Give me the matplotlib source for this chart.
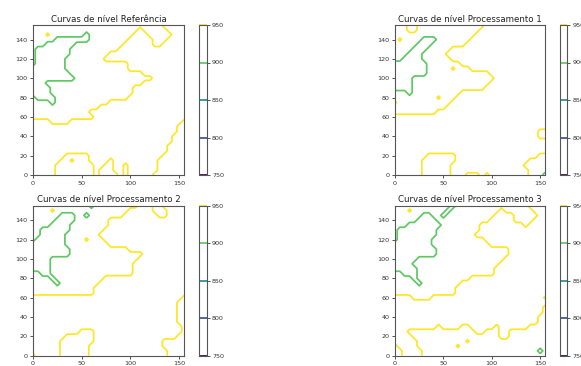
import numpy as np
import matplotlib
matplotlib.use("Agg")
import matplotlib.pyplot as plt

# ---------------- data ----------------
# Elevation classes on a 5-unit grid (u = 0..155, v = 155..0, rows top->bottom)
# L = below 900, M = 900-950, H = above 950, p = small peak in M, m = small dip in H
CODE = {"L": 870.0, "M": 925.0, "H": 980.0, "p": 962.0, "m": 938.0}
levels = [750, 800, 850, 900, 950]
grid_u = list(range(0, 156, 5))
grid_v = list(range(0, 156, 5))
titles = ["Curvas de nível Referência", "Curvas de nível Processamento 1",
          "Curvas de nível Processamento 2", "Curvas de nível Processamento 3"]
xticks = [0, 50, 100, 150]
yticks = [0, 20, 40, 60, 80, 100, 120, 140]

ref_rows = [
    "MMMMMMMMMMMMMMMMMMMMMMMMMMMHHHHH",  # 155
    "MMMMMMMMMMMMMMMMMMMMMMHMMMMMHHHH",  # 150
    "MMMpMMMMMMMLMMMMMMMMMHHHMMMMMHHH",  # 145
    "MMMMMLLLLLLLMMMMMMMMHHHHHMMMHHHH",  # 140
    "MMMLLLLLLMMMMMMMMMMHHHHHHMMHHHHH",  # 135
    "MLLLLLLLMMMMMMMMMMHHHHHHHHHHHHHH",  # 130
    "MLLLLLLLMMMMMMMMHHHHHHHHHHHHHHHH",  # 125
    "MLLLLLLMMMMMMMMHHHHHHHHHHHHHHHHH",  # 120
    "MLLLLLLMMMMMMMMMMMMMHHHHHHHHHHHH",  # 115
    "LLLLLLLMMMMMMMMMMMMMHHHHHHHHHHHH",  # 110
    "LLLLLLLLMMMMMMMMMMMMMMMHHHHHHHHH",  # 105
    "LLLLLLLLLMMMMMMMMMMMMMMMMHHHHHHH",  # 100
    "LLLMMMMMMMMMMMMMMMMMMMMHHHHHHHHH",  # 95
    "LLLLMMMMMMMMMMMMMMMMMHHHHHHHHHHH",  # 90
    "LLLLMMMMMMMMMMMMMMMMMHHHHHHHHHHH",  # 85
    "MLLLLMMMMMMMMMMMMMMMHHHHHHHHHHHH",  # 80
    "MMMMLMMMMMMMMMMMHHHHHHHHHHHHHHHH",  # 75
    "MMMMMMMMMMMMMMHHHHHHHHHHHHHHHHHH",  # 70
    "MMMMMMMMMMMMHHHHHHHHHHHHHHHHHHHH",  # 65
    "MMMMMMMMMMMMMHHHHHHHHHHHHHHHHHHH",  # 60
    "HHHHMMMMHHHHHHHHHHHHHHHHHHHHHHHM",  # 55
    "HHHHHHHHHHHHHHHHHHHHHHHHHHHHHHMM",  # 50
    "HHHHHHHHHHHHHHHHHHHHHHHHHHHHHHMM",  # 45
    "HHHHHHHHHHHHHHHHHHHHHHHHHHHHHMMM",  # 40
    "HHHHHHHHHHHHHHHHHHHHHHHHHHHHHMMM",  # 35
    "HHHHHHHHHHHHHHHHHHHHHHHHHHHHMMMM",  # 30
    "HHHHHHHHHHHHHHHHHHHHHHHHHHHHMMMM",  # 25
    "HHHHHHHMMMMMHHHHHHHHHHHHHHHMMMMM",  # 20
    "HHHHHHMMpMMMHHHHMHHHHHHHHHMMMMMM",  # 15
    "HHHHHMMMMMMMMHHMMHHMHHHHHHMMMMMM",  # 10
    "HHHHHMMMMMMMMHMMMHHMHHHHHHMMMMMM",  # 5
    "HHHHHMMMMMMMMHMMMMHMHHHHHMMMMMMM",  # 0
]

proc1_rows = [
    "MMMHHMMMMMMMMMMMMMMHHHHHHHHHHHHH",  # 155
    "MMMHHMMMMMMMMMMMMMHHHHHHHHHHHHHH",  # 150
    "MMMMMMMMMMMMMMMMMHHHHHHHHHHHHHHH",  # 145
    "MpMMMMLLLMMMMMMMHHHHHHHHHHHHHHHH",  # 140
    "MMMMMLLLMMMMMMMHHHHHHHHHHHHHHHHH",  # 135
    "MMMMLLLMMMMMHHHHHHHHHHHHHHHHHHHH",  # 130
    "MMMLLLMMMMMHHHHHHHHHHHHHHHHHHHHH",  # 125
    "MMLLLLMMMMMMHHHHHHHHHHHHHHHHHHHH",  # 120
    "LLLLLLLMMMMMMMHHHHHHHHHHHHHHHHHH",  # 115
    "LLLLLLLMMMMMpMMMHHHHHHHHHHHHHHHH",  # 110
    "LLLLLLLMMMMMMMMMMMMMHHHHHHHHHHHH",  # 105
    "LLLLMMMMMMMMMMMMMMMMMHHHHHHHHHHH",  # 100
    "LLLLMMMMMMMMMMMMMMMMHHHHHHHHHHHH",  # 95
    "LLLLMMMMMMMMMMMMMMMHHHHHHHHHHHHH",  # 90
    "MMMLMMMMMMMMMMHHHHHHHHHHHHHHHHHH",  # 85
    "MMMMMMMMMpMMMHHHHHHHHHHHHHHHHHHH",  # 80
    "pMMMMMMMMMMMHHHHHHHHHHHHHHHHHHHH",  # 75
    "MMMMMMMMMMMHHHHHHHHHHHHHHHHHHHHH",  # 70
    "MMMMMMMMMHHHHHHHHHHHHHHHHHHHHHHH",  # 65
    "HHHHHHHHHHHHHHHHHHHHHHHHHHHHHHHH",  # 60
    "HHHHHHHHHHHHHHHHHHHHHHHHHHHHHHHH",  # 55
    "HHHHHHHHHHHHHHHHHHHHHHHHHHHHHHHH",  # 50
    "HHHHHHHHHHHHHHHHHHHHHHHHHHHHHHMM",  # 45
    "HHHHHHHHHHHHHHHHHHHHHHHHHHHHHHMM",  # 40
    "HHHHHHHHHHHHHHHHHHHHHHHHHHHHHHHH",  # 35
    "HHHHHHHHHHHHHHHHHHHHHHHHHHHHHHHH",  # 30
    "HHHHHHHHHHHHHHHHHHHHHHHHHHHHHHHH",  # 25
    "HHHHHHHMMMMMMHHHHHHHHHHHHHHHHHMM",  # 20
    "HHHHHHMMMMMMMHHHHHHHHHHHHHHHMMMM",  # 15
    "HHHHHHMMMMMMHHHHHHHHHHHHHHHMMMMM",  # 10
    "HHHHHHMMMMMMHHHHHHHHHHHHHHHHMMMM",  # 5
    "HHHHHHMMMMMMHHHMMMHMHHHHHHHHMMML",  # 0
]

proc2_rows = [
    "MMMMMMMMMMMMLMMMMMMMMMHHHMMHHHHH",  # 155
    "MMMMpMMMMMMMMMMMMMMMHHHHHMMMHHHH",  # 150
    "MMMMMMLLLMMLMMMMMMMHHHHHHHMMHHHH",  # 145
    "MMMMMLLLLMMMMMMMHHHHHHHHHHHHHHHH",  # 140
    "MMMMLLLLMMMMMMMMHHHHHHHHHHHHHHHH",  # 135
    "MMLLLLLLMMMMMMMHHHHHHHHHHHHHHHHH",  # 130
    "MMLLLLLMMMMMMMHHHHHHHHHHHHHHHHHH",  # 125
    "MLLLLLLMMMMpMMMHHHHHHHHHHHHHHHHH",  # 120
    "LLLLLLLMMMMMMMMMHHHHHHHHHHHHHHHH",  # 115
    "LLLLLLLLMMMMMMMMMMMMHHHHHHHHHHHH",  # 110
    "LLLLLLLLMMMMMMMMMMMMMMMHHHHHHHHH",  # 105
    "LLLLMMMMMMMMMMMMMMMMMMHHHHHHHHHH",  # 100
    "LLLLMMMMMMMMMMMMMMMMMHHHHHHHHHHH",  # 95
    "LLLLMMMMMMMMMMMMMMMMMHHHHHHHHHHH",  # 90
    "MMLLMMMMMMMMMMMMMMMMMHHHHHHHHHHH",  # 85
    "MMMMLMMMMMMMMMMHHHHHHHHHHHHHHHHH",  # 80
    "MMMMMLMMMMMMMMHHHHHHHHHHHHHHHHHH",  # 75
    "MMMMMMMMMMMMMHHHHHHHHHHHHHHHHHHH",  # 70
    "MMMMMMMMMMMMMHHHHHHHHHHHHHHHHHHH",  # 65
    "HHHHHHHHHHHHHHHHHHHHHHHHHHHHHHHM",  # 60
    "HHHHHHHHHHHHHHHHHHHHHHHHHHHHHHMM",  # 55
    "HHHHHHHHHHHHHHHHHHHHHHHHHHHHHHMM",  # 50
    "HHHHHHHHHHHHHHHHHHHHHHHHHHHHHHMM",  # 45
    "HHHHHHHHHHHHHHHHHHHHHHHHHHHHHHMM",  # 40
    "HHHHHHHHHHHHHHHHHHHHHHHHHHHHHHMM",  # 35
    "HHHHHHHHHHHHHHHHHHHHHHHHHHHHHHHM",  # 30
    "HHHHHHHHHHMMMHHHHHHHHHHHHHHHHHHM",  # 25
    "HHHHHHHMMMMMMHHHHHHHHHHHHHHHHHMM",  # 20
    "HHHHHHMMMMMMMHHHHHHHHHHHHHHMMMMM",  # 15
    "HHHHHHMMMMMMHHHHHHHHHHHHHHHMMMMM",  # 10
    "HHHHHHMMMMMMHHHHHHHHHHHHHHHHMMMM",  # 5
    "MHHHHHMMMMMMHHHHHHHHHHHHHHHHMMMM",  # 0
]

proc3_rows = [
    "MMMMMMMMMMMMLMMMMMMMMMMMMMMMHHHH",  # 155
    "MMMpMMMMMMMLMMMMMMMMMMHMMMMMMHHH",  # 150
    "MMMMMMLLMMLMMMMMMMMMMHHHHMMMMMHH",  # 145
    "MMMMMLLLLMMMMMMMMMMMHHHHHMMMMHHH",  # 140
    "MMMLLLLLLLMMMMMMMMHHHHHHHHHMHHHH",  # 135
    "MLLLLLLLLMMMMMMMMMHHHHHHHHHHHHHH",  # 130
    "MLLLLLLLLMMMMMMMMHHHHHHHHHHHHHHH",  # 125
    "MLLLLLLLMMMMMMMMMMMHHHHHHHHHHHHH",  # 120
    "LLLLLLLLMMMMMMMMMMMMHHHHHHHHHHHH",  # 115
    "LLLLLLLLLMMMMMMMMMMMMMMMHHHHHHHH",  # 110
    "LLLLLLLLLMMMMMMMMMMMMMMMHHHHHHHH",  # 105
    "LLLLLMMMMMMMMMMMMMMMMMMHHHHHHHHH",  # 100
    "LLLLMMMMMMMMMMMMMMMMMMHHHHHHHHHH",  # 95
    "LLLLLMMMMMMMMMMMMMMMMHHHHHHHHHHH",  # 90
    "MMLLLMMMMMMMMMMMMMMMMHHHHHHHHHHH",  # 85
    "MMMMLMMMMMMMMMMMHHHHHHHHHHHHHHHH",  # 80
    "MMMMMLMMMMMMMMHHHHHHHHHHHHHHHHHH",  # 75
    "MMMMMMMMMMMMMHHHHHHHHHHHHHHHHHHH",  # 70
    "MMMMMMMMMMMMMHHHHHHHHHHHHHHHHHHH",  # 65
    "HHHHMMMMHHHHHHHHHHHHHHHHHHHHHHHm",  # 60
    "HHHHHHHHHHHHHHHHHHHHHHHHHHHHHHHH",  # 55
    "HHHHHHHHHHHHHHHHHHHHHHHHHHHHHHHM",  # 50
    "HHHHHHHHHHHHHHHHHHHHHHHHHHHHHHHM",  # 45
    "HHHHHHHHHHHHHHHHHHHHHHHHHHHHHHMM",  # 40
    "HHHHHHHHHHHHHHHHHHHHHHHHHHHHHHMM",  # 35
    "HHHHHHHHHMHHHHMMHHHHHMHHHHHHMMMM",  # 30
    "HHHMMMMMMMMMMMMMMHHMMMHHMMMMMMMM",  # 25
    "HHHHMMMMMMMMMMMMMMMMMMHHMMMMMMMM",  # 20
    "HHHHHMMMMMMMMMMpMMMMMMMMMMMMMMMM",  # 15
    "MHHHHMMMMMMMMpMMMMMMMMMMMMMMMMMM",  # 10
    "MMHHHHMMMMMMMMMMMMMMMMMMMMMMMMLM",  # 5
    "MMHHHHMMMMMMMMMMMMMMMMMMMMMMMMMM",  # 0
]

panels = [ref_rows, proc1_rows, proc2_rows, proc3_rows]

# ---------------- figure ----------------
W, H = 581, 366
fig = plt.figure(figsize=(W / 100, H / 100), dpi=100)

ax_boxes = [(33, 25, 151, 150), (395, 25, 150, 150),
            (33, 205.7, 151, 150), (395, 205.7, 150, 150)]
cb_lefts = [199, 559.5, 199, 559.5]

def fr(l, t, w, h):
    return [l / W, (H - t - h) / H, w / W, h / H]

for k, rows in enumerate(panels):
    Z = np.array([[CODE[c] for c in r] for r in rows])[::-1]
    l, t, w, h = ax_boxes[k]
    ax = fig.add_axes(fr(l, t, w, h))
    cs = ax.contour(grid_u, grid_v, Z, levels=levels, cmap="viridis", linewidths=1.25)
    ax.set_xlim(0, 155)
    ax.set_ylim(0, 155)
    ax.set_xticks(xticks)
    ax.set_yticks(yticks)
    ax.tick_params(labelsize=4.6, length=2.5, width=0.6, pad=1.5, colors="#333333")
    for s in ax.spines.values():
        s.set_linewidth(0.8)
        s.set_color("#555555")
    ax.set_title(titles[k], fontsize=6.2, pad=2.5, color="#222222")
    cax = fig.add_axes(fr(cb_lefts[k], t, 7.5, h))
    cb = fig.colorbar(cs, cax=cax)
    cb.ax.tick_params(labelsize=4.6, length=2.5, width=0.6, pad=1.5, colors="#333333")
    cb.outline.set_linewidth(0.8)
    cb.outline.set_edgecolor("#555555")

fig.savefig("out.png", dpi=100)
